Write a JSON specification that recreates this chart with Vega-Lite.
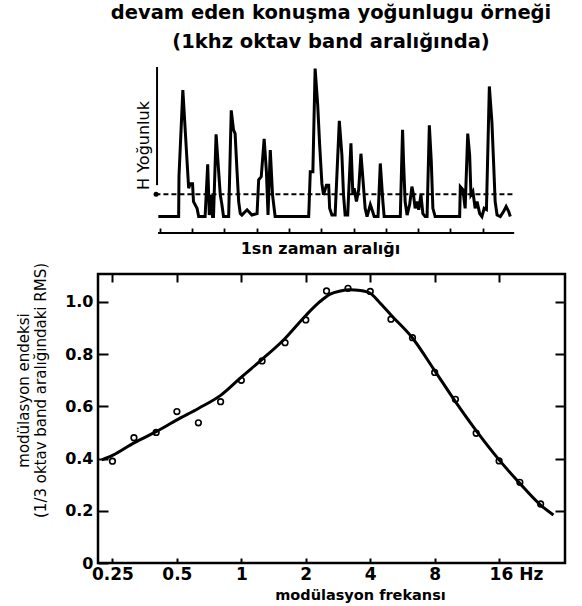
{
  "$schema": "https://vega.github.io/schema/vega-lite/v6.json",
  "padding": {"left": 14, "top": 2, "right": 5, "bottom": 2},
  "background": "white",
  "title": {
    "text": ["devam eden konuşma yoğunlugu örneği", "(1khz oktav band aralığında)"],
    "fontSize": 19.5, "fontWeight": "bold", "font": "DejaVu Sans", "lineHeight": 29,
    "anchor": "middle", "offset": 10, "color": "black", "dx": 40
  },
  "datasets": {
    "speech": [
      {"t": -5, "v": 0}, {"t": 58, "v": 0}, {"t": 59, "v": 27}, {"t": 71, "v": 84.5}, {"t": 78, "v": 59},
      {"t": 84, "v": 37}, {"t": 89, "v": 19}, {"t": 94, "v": 22}, {"t": 101, "v": 22}, {"t": 104, "v": 10},
      {"t": 115, "v": 5.5}, {"t": 120, "v": 0}, {"t": 140, "v": 0}, {"t": 148, "v": 35}, {"t": 153, "v": 1},
      {"t": 159, "v": 14.5}, {"t": 163, "v": 0}, {"t": 166, "v": 0}, {"t": 174, "v": 55}, {"t": 182, "v": 30},
      {"t": 187, "v": 14.5}, {"t": 192, "v": 8}, {"t": 197, "v": 0}, {"t": 213, "v": 0}, {"t": 221, "v": 71},
      {"t": 228, "v": 58}, {"t": 233, "v": 55.5}, {"t": 239, "v": 30}, {"t": 244, "v": 10}, {"t": 249, "v": 2},
      {"t": 254, "v": 1}, {"t": 270, "v": 4.5}, {"t": 285, "v": 1}, {"t": 301, "v": 2}, {"t": 306, "v": 24.5},
      {"t": 314, "v": 26.7}, {"t": 323, "v": 52}, {"t": 330, "v": 30}, {"t": 335, "v": 1}, {"t": 342, "v": 44.5},
      {"t": 349, "v": 14.5}, {"t": 357, "v": 0}, {"t": 461, "v": 0}, {"t": 462, "v": 5.5}, {"t": 466, "v": 30},
      {"t": 474, "v": 30}, {"t": 481, "v": 99}, {"t": 489, "v": 74.5}, {"t": 495, "v": 48}, {"t": 502, "v": 22},
      {"t": 507, "v": 14.5}, {"t": 516, "v": 21}, {"t": 523, "v": 21}, {"t": 526, "v": 5.5}, {"t": 533, "v": 1},
      {"t": 543, "v": 1}, {"t": 556, "v": 64}, {"t": 564, "v": 41}, {"t": 569, "v": 14.5}, {"t": 574, "v": 1},
      {"t": 582, "v": 1}, {"t": 592, "v": 49}, {"t": 598, "v": 14.5}, {"t": 602, "v": 19}, {"t": 609, "v": 10},
      {"t": 616, "v": 18}, {"t": 623, "v": 42}, {"t": 629, "v": 25.5}, {"t": 636, "v": 5.5}, {"t": 642, "v": 0},
      {"t": 652, "v": 8}, {"t": 659, "v": 3.5}, {"t": 664, "v": 0}, {"t": 676, "v": 0}, {"t": 683, "v": 35.5},
      {"t": 691, "v": 10}, {"t": 695, "v": 0}, {"t": 745, "v": 0}, {"t": 752, "v": 58}, {"t": 755, "v": 37},
      {"t": 760, "v": 10}, {"t": 766, "v": 1}, {"t": 774, "v": 8}, {"t": 781, "v": 20}, {"t": 786, "v": 14.5},
      {"t": 791, "v": 5.5}, {"t": 797, "v": 10}, {"t": 802, "v": 4.5}, {"t": 809, "v": 14.5}, {"t": 815, "v": 2},
      {"t": 822, "v": 0}, {"t": 828, "v": 0}, {"t": 835, "v": 61}, {"t": 841, "v": 37}, {"t": 846, "v": 5.5},
      {"t": 853, "v": 0}, {"t": 929, "v": 0}, {"t": 931, "v": 20}, {"t": 939, "v": 18}, {"t": 946, "v": 5.5},
      {"t": 954, "v": 55.5}, {"t": 960, "v": 41}, {"t": 964, "v": 14.5}, {"t": 970, "v": 16.7}, {"t": 977, "v": 5.5},
      {"t": 983, "v": 10}, {"t": 991, "v": 2}, {"t": 998, "v": 0}, {"t": 1005, "v": 5.5}, {"t": 1012, "v": 4.7},
      {"t": 1021, "v": 87}, {"t": 1029, "v": 63}, {"t": 1034, "v": 37}, {"t": 1039, "v": 10}, {"t": 1045, "v": 1},
      {"t": 1055, "v": 0}, {"t": 1065, "v": 3.3}, {"t": 1073, "v": 6.7}, {"t": 1081, "v": 3.3}, {"t": 1086, "v": 0}
    ],
    "curve": [
      {"f": 0.223, "m": 0.395}, {"f": 0.25, "m": 0.412}, {"f": 0.315, "m": 0.46}, {"f": 0.4, "m": 0.503},
      {"f": 0.5, "m": 0.548}, {"f": 0.63, "m": 0.592}, {"f": 0.8, "m": 0.642}, {"f": 1.0, "m": 0.712},
      {"f": 1.25, "m": 0.78}, {"f": 1.6, "m": 0.86}, {"f": 2.0, "m": 0.948}, {"f": 2.32, "m": 1.0},
      {"f": 2.6, "m": 1.03}, {"f": 2.9, "m": 1.042}, {"f": 3.2, "m": 1.047}, {"f": 3.6, "m": 1.044},
      {"f": 4.0, "m": 1.033}, {"f": 4.4, "m": 1.0}, {"f": 5.0, "m": 0.95}, {"f": 6.3, "m": 0.862},
      {"f": 8.0, "m": 0.737}, {"f": 10.0, "m": 0.618}, {"f": 12.5, "m": 0.507}, {"f": 16.0, "m": 0.395},
      {"f": 20.0, "m": 0.305}, {"f": 25.0, "m": 0.222}, {"f": 28.7, "m": 0.184}
    ],
    "points": [
      {"f": 0.25, "m": 0.39}, {"f": 0.315, "m": 0.48}, {"f": 0.4, "m": 0.5}, {"f": 0.5, "m": 0.58},
      {"f": 0.63, "m": 0.537}, {"f": 0.8, "m": 0.618}, {"f": 1.0, "m": 0.7}, {"f": 1.25, "m": 0.774},
      {"f": 1.6, "m": 0.844}, {"f": 2.0, "m": 0.931}, {"f": 2.5, "m": 1.042}, {"f": 3.15, "m": 1.052},
      {"f": 4.0, "m": 1.04}, {"f": 5.0, "m": 0.934}, {"f": 6.3, "m": 0.863}, {"f": 8.0, "m": 0.73},
      {"f": 10.0, "m": 0.627}, {"f": 12.5, "m": 0.497}, {"f": 16.0, "m": 0.391}, {"f": 20.0, "m": 0.309},
      {"f": 25.0, "m": 0.226}
    ]
  },
  "spacing": 5,
  "vconcat": [
    {
      "width": 467,
      "height": 166,
      "layer": [
        {
          "data": {"name": "speech"},
          "mark": {"type": "line", "color": "black", "strokeWidth": 3, "strokeJoin": "miter"},
          "encoding": {
            "x": {
              "field": "t", "type": "quantitative",
              "scale": {"domain": [-192, 1255.5], "nice": false, "zero": false},
              "axis": {
                "orient": "bottom", "domain": false, "grid": false, "labels": false,
                "values": [0, 100, 200, 300, 400, 500, 600, 700, 800, 900, 1000],
                "tickSize": -5, "tickWidth": 1.8, "tickColor": "black",
                "title": "1sn zaman aralığı", "titleFont": "DejaVu Sans", "titleFontSize": 16, "titleFontWeight": "bold",
                "titleColor": "black", "titleX": 222, "titleY": 20, "titleBaseline": "alphabetic",
                "titleAnchor": null, "titleAlign": "center"
              }
            },
            "y": {
              "field": "v", "type": "quantitative",
              "scale": {"domain": [-11, 100], "nice": false, "zero": false},
              "axis": {
                "domain": false, "ticks": false, "labels": false, "grid": false,
                "title": "H Yoğunluk", "titleFont": "DejaVu Sans", "titleFontSize": 16, "titleFontWeight": "normal",
                "titleColor": "black", "titleX": 50, "titleY": 78, "titleAngle": -90,
                "titleBaseline": "alphabetic", "titleAlign": "center", "titleAnchor": null
              }
            }
          }
        },
        {
          "data": {"values": [{"t": -14, "t2": 1100, "v": 14.9}]},
          "mark": {"type": "rule", "color": "black", "strokeWidth": 1.8, "strokeDash": [5, 3]},
          "encoding": {
            "x": {"field": "t", "type": "quantitative"},
            "x2": {"field": "t2"},
            "y": {"field": "v", "type": "quantitative"}
          }
        },
        {
          "data": {"values": [{"t": -9, "v": 21, "v2": 100}]},
          "mark": {"type": "rule", "color": "black", "strokeWidth": 2},
          "encoding": {
            "x": {"field": "t", "type": "quantitative"},
            "y": {"field": "v", "type": "quantitative"},
            "y2": {"field": "v2"}
          }
        },
        {
          "data": {"values": [{"t": -12, "v": 14.9}]},
          "mark": {"type": "point", "filled": true, "color": "black", "size": 25, "opacity": 1},
          "encoding": {
            "x": {"field": "t", "type": "quantitative"},
            "y": {"field": "v", "type": "quantitative"}
          }
        },
        {
          "data": {"values": [{"t": -6, "t2": 1098, "v": -11}]},
          "mark": {"type": "rule", "color": "black", "strokeWidth": 2},
          "encoding": {
            "x": {"field": "t", "type": "quantitative"},
            "x2": {"field": "t2"},
            "y": {"field": "v", "type": "quantitative"}
          }
        }
      ]
    },
    {
      "width": 467,
      "height": 289,
      "view": {"stroke": "black", "strokeWidth": 2.5},
      "resolve": {"axis": {"x": "independent", "y": "independent"}},
      "layer": [
        {
          "data": {"name": "curve"},
          "mark": {"type": "line", "color": "black", "strokeWidth": 3, "interpolate": "monotone"},
          "encoding": {
            "x": {
              "field": "f", "type": "quantitative",
              "scale": {"type": "log", "base": 2, "domain": [0.214, 32.5], "nice": false},
              "axis": {
                "orient": "bottom", "domain": false, "grid": false,
                "values": [0.25, 0.5, 1, 2, 4, 8, 16],
                "labelExpr": "datum.value == 16 ? '16 Hz' : datum.value + ''",
                "labelAlign": {"condition": {"test": "datum.value == 16", "value": "left"}, "value": "center"},
                "labelOffset": {"condition": {"test": "datum.value == 16", "value": -10}, "value": 0},
                "tickSize": -5, "tickWidth": 2, "tickColor": "black",
                "labelFont": "DejaVu Sans", "labelFontSize": 17, "labelFontWeight": "bold", "labelColor": "black", "labelPadding": 8,
                "labelFlush": false,
                "title": "modülasyon frekansı", "titleFont": "DejaVu Sans", "titleFontSize": 14.5, "titleFontWeight": "bold",
                "titleColor": "black", "titleX": 262, "titleY": 36, "titleBaseline": "alphabetic",
                "titleAnchor": null, "titleAlign": "center"
              }
            },
            "y": {
              "field": "m", "type": "quantitative",
              "scale": {"domain": [0, 1.107], "nice": false},
              "axis": {
                "orient": "left", "domain": false, "grid": false,
                "values": [0, 0.2, 0.4, 0.6, 0.8, 1.0],
                "labelExpr": "datum.value == 0 ? '0' : format(datum.value, '.1f')",
                "tickSize": -10, "tickWidth": 2, "tickColor": "black",
                "labelFont": "DejaVu Sans", "labelFontSize": 16, "labelFontWeight": "bold", "labelColor": "black", "labelPadding": 15,
                "labelFlush": false,
                "title": ["modülasyon endeksi", "(1/3 oktav band aralığındaki RMS)"],
                "titleFont": "DejaVu Sans", "titleFontSize": 15, "titleFontWeight": "normal", "titleColor": "black",
                "titleLineHeight": 17, "titleX": -67, "titleY": 116, "titleAngle": -90,
                "titleBaseline": "bottom", "titleAlign": "center", "titleAnchor": null
              }
            }
          }
        },
        {
          "data": {"name": "points"},
          "mark": {"type": "point", "shape": "circle", "filled": false, "color": "black", "size": 32, "strokeWidth": 1.6, "opacity": 1},
          "encoding": {
            "x": {
              "field": "f", "type": "quantitative",
              "axis": {
                "orient": "top", "domain": false, "grid": false, "labels": false, "title": null,
                "values": [0.25, 0.5, 1, 2, 4, 8, 16],
                "tickSize": -8, "tickWidth": 2, "tickColor": "black"
              }
            },
            "y": {
              "field": "m", "type": "quantitative",
              "axis": {
                "orient": "right", "domain": false, "grid": false, "labels": false, "title": null,
                "values": [0.2, 0.4, 0.6, 0.8, 1.0],
                "tickSize": -10, "tickWidth": 2, "tickColor": "black"
              }
            }
          }
        },
        {
          "mark": {"type": "rule", "color": "black", "strokeWidth": 1.6},
          "encoding": {
            "y": {"datum": 1.0, "type": "quantitative", "axis": null}
          }
        }
      ]
    }
  ],
  "config": {
    "view": {"stroke": null},
    "font": "DejaVu Sans",
    "axis": {"grid": false}
  }
}
